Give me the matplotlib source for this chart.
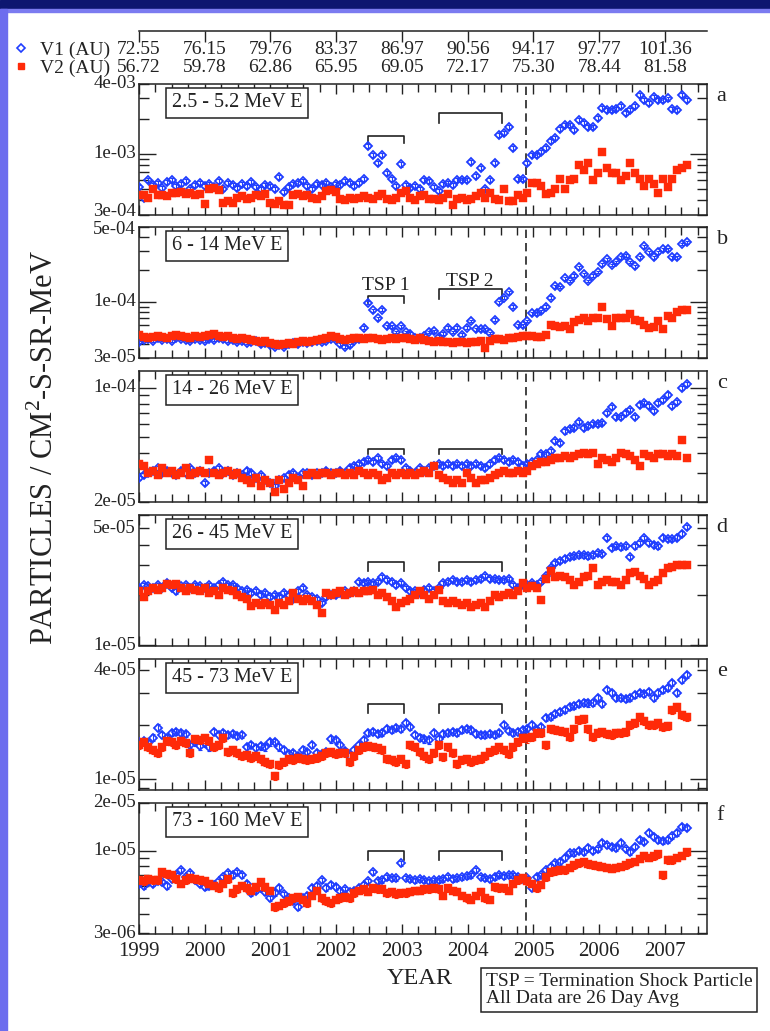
"""
Voyager 1 / Voyager 2 electron intensities, 1999-2007
======================================================
Six stacked log panels, 26 day averages, with the heliocentric
distance of both spacecraft on a top axis.
"""

import numpy as np
import matplotlib
matplotlib.use("Agg")
import matplotlib.pyplot as plt
import matplotlib.transforms as mtransforms
from matplotlib.lines import Line2D
from matplotlib.patches import Rectangle
from matplotlib.ticker import LogLocator, NullFormatter, MultipleLocator

plt.rcParams['font.family'] = ['Liberation Serif', 'DejaVu Serif']
plt.rcParams['mathtext.fontset'] = 'custom'
plt.rcParams['mathtext.rm'] = 'Liberation Serif'

# ---------------------------------------------------------------- data
START_YEAR = 1999.0
STEP_DAYS = 26.0

years = [1999, 2000, 2001, 2002, 2003, 2004, 2005, 2006, 2007]
v1_au = ['72.55', '76.15', '79.76', '83.37', '86.97', '90.56', '94.17',
         '97.77', '101.36']
v2_au = ['56.72', '59.78', '62.86', '65.95', '69.05', '72.17', '75.30',
         '78.44', '81.58']

energy_labels = ['2.5 - 5.2 MeV E', '6 - 14 MeV E', '14 - 26 MeV E',
                 '26 - 45 MeV E', '45 - 73 MeV E', '73 - 160 MeV E']
panel_letters = ['a', 'b', 'c', 'd', 'e', 'f']
units = [1e-4, 1e-5, 1e-5, 1e-5, 1e-5, 1e-6]

# panel a, 2.5-5.2 MeV (x 1e-4)
a_v1 = [5.2, 4.2, 6.0, 5.4, 5.6, 5.1, 5.7, 5.9, 5.3, 5.5, 5.8, 5.0, 5.4, 5.6,
        5.3, 5.5, 5.2, 5.8, 5.0, 5.6, 5.4, 5.1, 5.5, 5.3, 5.7, 5.2, 5.0, 5.4,
        5.3, 5.0, 6.3, 4.7, 5.2, 5.5, 5.6, 5.8, 5.3, 5.0, 5.5, 5.4, 5.6, 5.2,
        5.5, 5.4, 5.8, 5.6, 5.3, 5.6, 6.1, 11.6, 9.7, 8.3, 9.7, 6.8, 6.1, 5.3,
        8.1, 5.4, 5.1, 5.3, 5.0, 5.9, 5.8, 5.2, 4.8, 5.5, 5.6, 5.4, 6.0, 6.0,
        6.0, 8.5, 6.5, 7.5, 5.0, 5.9, 8.3, 14.5, 15.0, 17.0, 11.2, 6.1, 6.1, 8.4,
        9.7, 9.7, 10.3, 11.2, 13.0, 13.6, 16.5, 17.6, 17.6, 16.0, 19.5, 18.3, 17.0, 17.0,
        20.3, 25.0, 23.7, 24.0, 24.5, 26.0, 22.7, 23.7, 26.0, 32.0, 29.0, 27.5, 31.0, 29.0,
        29.0, 30.0, 24.5, 23.7, 32.0, 29.0]
a_v2 = [4.4, 4.4, 4.2, 5.0, 4.4, 4.4, 4.3, 4.6, 4.6, 4.7, 4.5, 4.6, 4.4, 4.5,
        3.7, 5.0, 5.1, 4.9, 3.8, 3.9, 3.8, 4.2, 4.3, 4.1, 4.2, 4.4, 4.3, 4.5,
        3.8, 3.7, 3.9, 3.6, 3.6, 4.4, 4.5, 4.3, 4.4, 4.2, 4.1, 4.3, 4.8, 4.9,
        4.7, 4.1, 4.0, 4.2, 4.1, 4.2, 4.3, 4.2, 4.1, 4.3, 4.5, 4.1, 4.0, 4.2,
        4.6, 4.8, 4.2, 4.0, 4.3, 4.4, 4.1, 4.1, 4.0, 4.2, 4.5, 3.6, 4.1, 4.2,
        4.0, 4.1, 4.3, 4.6, 4.2, 4.6, 4.1, 4.0, 5.0, 3.9, 3.9, 4.4, 4.2, 4.6,
        5.6, 5.6, 5.3, 4.5, 4.6, 5.0, 6.1, 5.0, 5.9, 6.1, 8.0, 7.2, 8.3, 5.9,
        6.9, 10.3, 7.6, 6.9, 6.9, 5.9, 6.5, 8.4, 6.9, 6.1, 5.3, 6.1, 5.5, 4.6,
        6.1, 5.2, 6.1, 7.2, 7.6, 8.0]

# panel b, 6-14 MeV (x 1e-5)
b_v1 = [4.2, 4.4, 4.5, 4.3, 4.6, 4.4, 4.5, 4.3, 4.6, 4.5, 4.4, 4.3, 4.5, 4.4,
        4.3, 4.5, 4.4, 4.6, 4.5, 4.3, 4.4, 4.2, 4.3, 4.1, 4.2, 4.3, 4.0, 4.1,
        3.9, 3.8, 3.9, 3.8, 4.0, 4.1, 4.0, 4.2, 4.1, 4.2, 4.3, 4.2, 4.3, 4.5,
        4.4, 4.0, 3.8, 3.9, 4.3, 4.5, 5.7, 9.8, 8.3, 7.0, 8.4, 5.9, 5.9, 5.2,
        5.9, 5.2, 5.0, 4.6, 4.6, 4.8, 5.2, 5.3, 4.7, 5.0, 5.7, 5.2, 5.7, 4.9,
        5.7, 6.6, 5.5, 5.5, 5.5, 5.1, 6.8, 9.9, 10.9, 12.2, 9.0, 6.0, 6.0, 6.6,
        7.8, 7.8, 8.1, 9.0, 10.9, 13.9, 13.7, 16.6, 15.6, 17.5, 21.0, 18.0, 15.6, 17.5,
        19.0, 22.4, 25.0, 22.0, 23.5, 26.0, 27.0, 23.5, 21.5, 26.0, 33.0, 29.0, 26.0, 29.0,
        31.0, 31.0, 26.0, 26.0, 34.6, 36.0]
b_v2 = [4.9, 4.7, 4.6, 4.7, 4.8, 4.7, 4.6, 4.8, 4.9, 4.8, 4.7, 4.6, 4.8, 4.7,
        4.8, 4.9, 5.0, 4.8, 4.7, 4.8, 4.6, 4.5, 4.6, 4.5, 4.4, 4.3, 4.2, 4.3,
        4.1, 4.0, 3.9, 4.0, 4.1, 4.0, 4.2, 4.3, 4.2, 4.3, 4.4, 4.5, 4.6, 4.8,
        4.7, 4.5, 4.4, 4.5, 4.6, 4.6, 4.5, 4.6, 4.6, 4.5, 4.4, 4.5, 4.6, 4.5,
        4.6, 4.6, 4.5, 4.4, 4.6, 4.4, 4.3, 4.2, 4.3, 4.2, 4.2, 4.1, 4.2, 4.2,
        4.1, 4.2, 4.2, 4.3, 3.7, 4.3, 4.5, 4.5, 4.4, 4.6, 4.6, 4.7, 4.8, 4.8,
        4.8, 4.7, 4.7, 4.9, 6.1, 5.9, 5.8, 5.9, 5.5, 6.5, 6.8, 7.1, 6.6, 7.0,
        7.0, 9.0, 6.9, 5.9, 7.0, 7.0, 7.0, 7.6, 6.8, 6.6, 6.0, 5.7, 5.8, 6.6,
        5.6, 7.3, 7.1, 8.0, 8.3, 8.3]

# panel c, 14-26 MeV (x 1e-5)
c_v1 = [2.8, 2.9, 3.0, 3.1, 3.2, 3.0, 3.1, 3.0, 2.9, 3.1, 3.0, 3.2, 3.0, 3.1,
        2.6, 3.0, 3.1, 3.2, 3.0, 3.1, 2.9, 3.0, 2.9, 3.1, 3.0, 2.8, 2.9, 2.7,
        2.6, 2.5, 2.7, 2.8, 2.9, 3.0, 2.8, 3.0, 3.0, 2.9, 3.0, 3.0, 3.1, 3.0,
        3.0, 3.1, 3.0, 3.2, 3.3, 3.4, 3.5, 3.6, 3.5, 3.7, 3.4, 3.3, 3.6, 3.7,
        3.6, 3.2, 3.1, 3.0, 3.2, 3.1, 3.2, 3.3, 3.4, 3.3, 3.4, 3.3, 3.4, 3.3,
        3.4, 3.3, 3.4, 3.3, 3.2, 3.4, 3.6, 3.7, 3.6, 3.5, 3.6, 3.5, 3.3, 3.4,
        3.5, 3.6, 3.9, 3.9, 4.1, 4.7, 4.6, 5.4, 5.6, 5.7, 6.2, 5.7, 5.8, 6.0,
        6.0, 6.1, 7.0, 7.6, 6.6, 6.6, 7.0, 7.3, 6.6, 7.9, 8.1, 7.7, 7.2, 8.1,
        8.4, 9.1, 7.7, 8.2, 10.0, 10.6]
c_v2 = [3.4, 3.3, 3.0, 3.1, 2.9, 3.2, 3.0, 3.1, 2.9, 3.0, 3.2, 2.9, 3.0, 3.1,
        3.0, 3.6, 3.0, 2.9, 3.0, 3.1, 2.9, 3.0, 2.8, 2.7, 2.6, 2.8, 2.5, 2.7,
        2.6, 2.3, 2.7, 2.4, 2.6, 2.8, 2.7, 2.5, 2.9, 3.0, 2.9, 3.0, 3.0, 2.9,
        3.0, 3.0, 2.9, 3.0, 2.9, 3.1, 3.0, 2.9, 3.0, 2.9, 2.7, 2.8, 3.0, 2.9,
        3.0, 2.9, 3.0, 2.9, 3.0, 3.1, 3.0, 3.3, 2.9, 2.8, 2.7, 2.6, 2.7, 2.6,
        3.0, 2.8, 2.6, 2.7, 2.7, 2.8, 2.9, 3.0, 3.1, 3.0, 3.0, 3.1, 3.0, 3.1,
        3.3, 3.4, 3.5, 3.5, 3.6, 3.7, 3.7, 3.8, 3.7, 3.8, 3.9, 4.0, 3.9, 4.0,
        3.4, 3.7, 3.6, 3.5, 3.7, 4.0, 3.9, 3.8, 3.6, 3.3, 3.9, 3.8, 3.7, 3.9,
        3.9, 3.8, 3.9, 3.8, 4.8, 3.7]

# panel d, 26-45 MeV (x 1e-5)
d_v1 = [2.2, 2.3, 2.25, 2.2, 2.3, 2.2, 2.35, 2.2, 2.1, 2.25, 2.3, 2.2, 2.3, 2.25,
        2.2, 2.3, 2.2, 2.3, 2.4, 2.3, 2.3, 2.2, 2.1, 2.15, 2.05, 2.1, 2.0, 2.05,
        1.95, 2.0, 1.95, 2.05, 2.0, 1.9, 2.1, 2.2, 2.0, 1.95, 1.9, 1.8, 1.95, 2.0,
        2.0, 2.05, 2.1, 2.05, 2.1, 2.4, 2.37, 2.4, 2.35, 2.4, 2.55, 2.45, 2.4, 2.3,
        2.35, 2.2, 2.1, 2.1, 2.05, 2.15, 2.2, 2.1, 2.2, 2.35, 2.4, 2.45, 2.4, 2.4,
        2.45, 2.4, 2.45, 2.5, 2.6, 2.5, 2.5, 2.45, 2.45, 2.5, 2.3, 2.2, 2.3, 2.3,
        2.35, 2.3, 2.4, 2.6, 2.9, 3.1, 3.2, 3.3, 3.36, 3.4, 3.45, 3.45, 3.4, 3.45,
        3.55, 3.5, 4.36, 3.8, 3.9, 3.85, 3.9, 3.36, 3.9, 4.1, 4.36, 4.1, 4.0, 3.9,
        4.4, 4.3, 4.3, 4.4, 4.65, 5.1]
d_v2 = [2.1, 1.95, 2.1, 2.2, 2.15, 2.2, 2.34, 2.3, 2.34, 2.2, 2.1, 2.2, 2.15, 2.1,
        2.2, 2.05, 2.1, 2.0, 2.2, 2.15, 2.1, 2.0, 1.95, 1.9, 1.73, 1.8, 1.75, 1.8,
        1.75, 1.62, 1.8, 1.75, 1.85, 2.05, 1.9, 1.85, 1.9, 1.85, 1.75, 1.57, 2.05, 2.0,
        2.05, 2.1, 2.0, 2.05, 2.1, 2.05, 2.1, 2.1, 2.15, 2.0, 2.05, 1.95, 1.85, 1.7,
        1.8, 1.85, 1.9, 2.0, 2.1, 2.0, 1.9, 2.0, 2.15, 1.85, 1.8, 1.85, 1.8, 1.75,
        1.8, 1.7, 1.75, 1.8, 1.7, 1.85, 2.0, 1.95, 2.0, 2.05, 2.0, 2.1, 2.37, 2.2,
        2.25, 2.2, 1.86, 2.5, 2.8, 2.55, 2.6, 2.55, 2.45, 2.3, 2.4, 2.55, 2.6, 2.9,
        2.3, 2.4, 2.45, 2.4, 2.4, 2.3, 2.45, 2.7, 2.75, 2.6, 2.5, 2.3, 2.4, 2.45,
        2.7, 2.9, 2.95, 3.0, 3.0, 3.0]

# panel e, 45-73 MeV (x 1e-5)
e_v1 = [1.6, 1.62, 1.58, 1.7, 1.93, 1.76, 1.7, 1.8, 1.82, 1.8, 1.78, 1.55, 1.6, 1.52,
        1.58, 1.5, 1.83, 1.75, 1.8, 1.76, 1.78, 1.74, 1.76, 1.5, 1.55, 1.48, 1.52, 1.5,
        1.6, 1.6, 1.5, 1.45, 1.38, 1.4, 1.35, 1.46, 1.42, 1.55, 1.4, 1.38, 1.42, 1.66,
        1.64, 1.55, 1.43, 1.34, 1.45, 1.55, 1.64, 1.8, 1.82, 1.78, 1.8, 1.9, 1.88, 1.92,
        1.9, 2.05, 1.95, 1.76, 1.7, 1.66, 1.64, 1.8, 1.66, 1.78, 1.8, 1.82, 1.8, 1.88,
        1.9, 1.86, 1.78, 1.76, 1.75, 1.78, 1.76, 1.8, 2.0, 1.85, 1.8, 1.83, 1.88, 1.9,
        2.0, 1.88, 1.95, 2.18, 2.2, 2.3, 2.35, 2.42, 2.5, 2.55, 2.6, 2.65, 2.62, 2.65,
        2.8, 2.6, 3.1, 3.0, 2.8, 2.8, 2.78, 2.8, 2.92, 3.0, 2.95, 3.03, 2.8, 3.0,
        3.1, 3.2, 3.4, 3.0, 3.53, 3.76]
e_v2 = [1.55, 1.6, 1.5, 1.45, 1.4, 1.5, 1.62, 1.6, 1.55, 1.62, 1.58, 1.4, 1.66, 1.65,
        1.68, 1.62, 1.5, 1.55, 1.7, 1.42, 1.45, 1.4, 1.34, 1.36, 1.32, 1.35, 1.3, 1.25,
        1.21, 1.04, 1.2, 1.25, 1.3, 1.28, 1.32, 1.3, 1.28, 1.3, 1.32, 1.35, 1.4, 1.42,
        1.38, 1.4, 1.4, 1.25, 1.35, 1.45, 1.5, 1.52, 1.5, 1.48, 1.45, 1.3, 1.28, 1.25,
        1.3, 1.21, 1.55, 1.5, 1.42, 1.35, 1.3, 1.4, 1.55, 1.33, 1.5, 1.4, 1.21, 1.28,
        1.3, 1.25, 1.28, 1.3, 1.35, 1.42, 1.45, 1.5, 1.45, 1.38, 1.5, 1.6, 1.7, 1.68,
        1.72, 1.8, 1.8, 1.55, 1.9, 1.88, 1.85, 1.82, 1.72, 1.9, 2.13, 2.15, 1.9, 1.72,
        1.8, 1.83, 1.78, 1.75, 1.8, 1.8, 1.83, 2.0, 2.05, 2.2, 2.1, 2.0, 2.0, 2.05,
        1.95, 1.98, 2.42, 2.5, 2.27, 2.2]

# panel f, 73-160 MeV (x 1e-6)
f_v1 = [6.2, 6.0, 6.3, 6.2, 6.4, 6.3, 6.0, 6.6, 7.0, 7.5, 6.8, 7.2, 6.5, 6.2,
        5.9, 6.0, 6.1, 6.4, 6.8, 7.2, 7.0, 7.3, 7.0, 6.2, 5.4, 5.6, 5.8, 5.5,
        5.0, 5.4, 5.8, 5.3, 5.0, 4.8, 4.4, 5.0, 5.2, 5.8, 6.0, 6.5, 5.8, 6.1,
        5.9, 5.6, 5.7, 5.5, 5.6, 5.8, 6.1, 6.4, 7.3, 6.4, 6.5, 6.8, 6.7, 6.7,
        8.3, 6.7, 6.6, 6.5, 6.6, 6.5, 6.4, 6.5, 6.5, 6.6, 6.8, 6.6, 6.7, 6.8,
        6.9, 7.0, 7.5, 6.8, 6.7, 6.6, 6.8, 7.0, 6.9, 7.0, 7.0, 6.8, 6.6, 6.7,
        5.8, 6.8, 7.0, 7.5, 7.9, 8.3, 8.5, 9.0, 9.6, 9.6, 10.0, 9.8, 10.4, 10.0,
        10.2, 11.2, 10.8, 10.6, 10.4, 11.2, 10.2, 9.8, 10.6, 11.7, 11.4, 12.9, 12.2, 11.7,
        11.5, 11.7, 12.3, 12.9, 14.1, 14.0]
f_v2 = [6.5, 6.4, 6.6, 6.5, 6.5, 7.3, 7.1, 7.0, 6.6, 6.2, 6.5, 6.7, 6.6, 6.5,
        6.4, 6.2, 6.0, 5.8, 6.2, 6.6, 5.4, 5.7, 6.0, 5.8, 5.6, 5.9, 6.3, 5.9,
        5.6, 4.4, 4.5, 4.65, 4.8, 5.0, 5.1, 4.9, 4.65, 5.2, 5.6, 5.0, 4.8, 4.65,
        4.9, 5.0, 5.1, 5.0, 5.4, 5.6, 5.7, 5.5, 5.8, 5.7, 5.7, 5.4, 5.5, 5.3,
        5.4, 5.4, 5.5, 5.6, 5.6, 5.7, 5.7, 5.8, 5.7, 5.2, 5.8, 5.6, 5.5, 5.2,
        5.0, 4.9, 5.2, 5.5, 5.0, 4.9, 5.9, 5.8, 5.8, 5.6, 6.2, 6.5, 6.7, 6.4,
        6.2, 5.8, 6.1, 6.8, 7.3, 7.4, 7.5, 7.5, 7.8, 8.1, 8.3, 8.5, 8.2, 8.1,
        8.0, 7.9, 7.8, 7.7, 7.8, 7.9, 8.1, 8.3, 8.5, 8.9, 9.3, 9.0, 9.2, 9.5,
        7.0, 8.7, 8.7, 9.0, 9.3, 9.8]

v1_series = [a_v1, b_v1, c_v1, d_v1, e_v1, f_v1]
v2_series = [a_v2, b_v2, c_v2, d_v2, e_v2, f_v2]

# relative error bar size, per panel
v1_err = [0.04, 0.03, 0.03, 0.03, 0.04, 0.04]
v2_err = [0.03, 0.03, 0.04, 0.04, 0.05, 0.05]

ylims = [(3e-4, 4e-3), (3e-5, 5e-4), (2e-5, 1.27e-4),
         (1e-5, 6e-5), (8.8e-6, 4.6e-5), (3e-6, 2e-5)]
ylabels_at = [[3e-4, 1e-3, 4e-3], [3e-5, 1e-4, 5e-4], [2e-5, 1e-4],
              [1e-5, 5e-5], [1e-5, 4e-5], [3e-6, 1e-5, 2e-5]]

# TSP brackets: time spans and (top, foot) levels in each panel
tsp_spans = [(2002.48, 2003.03), (2003.57, 2004.52)]
tsp1_levels = [(14.2e-4, 12.3e-4), (11.2e-5, 9.8e-5), (4.23e-5, 3.9e-5),
               (3.13e-5, 2.77e-5), (2.61e-5, 2.33e-5), (1.0e-5, 8.7e-6)]
tsp2_levels = [(22.4e-4, 18.3e-4), (13.2e-5, 10.7e-5), (4.23e-5, 3.9e-5),
               (3.13e-5, 2.77e-5), (2.61e-5, 2.33e-5), (1.0e-5, 8.7e-6)]
shock_crossing = 2004.89

BLUE = '#1f3dff'
RED = '#ff2a08'
INK = '#222222'

# ---------------------------------------------------------------- layout
W, H = 770, 1031
fig = plt.figure(figsize=(W / 100, H / 100), dpi=100)


def fx(px):
    return px / W


def fy(py):
    return 1 - py / H


# slide frame
fig.patches.append(Rectangle((0, fy(9)), 1, 9 / H, transform=fig.transFigure,
                             color='#0d1670', zorder=0))
fig.patches.append(Rectangle((0, fy(12)), 1, 3 / H, transform=fig.transFigure,
                             color='#7b7bf0', zorder=0))
fig.patches.append(Rectangle((0, 0), fx(7), fy(9), transform=fig.transFigure,
                             color='#6d6dee', zorder=0))

AX_LEFT, AX_W = 139, 568
PANEL_H = 130.5
panel_tops = [84, 227, 371, 515, 659, 803]
XLIM = (1999.0, 2007.64)

n_pts = len(a_v1)
times = START_YEAR + np.arange(n_pts) * STEP_DAYS / 365.25

for k in range(6):
    top = panel_tops[k]
    ax = fig.add_axes([fx(AX_LEFT), fy(top + PANEL_H), fx(AX_W), PANEL_H / H])
    ax.set_yscale('log')
    ax.set_ylim(*ylims[k])
    ax.set_xlim(*XLIM)

    v1 = np.array(v1_series[k]) * units[k]
    v2 = np.array(v2_series[k]) * units[k]

    ax.errorbar(times, v1, yerr=v1 * v1_err[k], fmt='none', ecolor=BLUE,
                elinewidth=0.8, capsize=1.6, capthick=0.8, zorder=3)
    ax.plot(times, v1, ls='none', marker='D', ms=4.2, mfc='none',
            mec=BLUE, mew=1.3, zorder=4)
    ax.errorbar(times, v2, yerr=v2 * v2_err[k], fmt='none', ecolor=RED,
                elinewidth=0.8, capsize=1.6, capthick=0.8, zorder=5)
    ax.plot(times, v2, ls='none', marker='s', ms=5.4, mfc=RED,
            mec=RED, mew=0.3, zorder=6)

    ax.axvline(shock_crossing, color=INK, ls=(0, (5, 3)), lw=1.2, zorder=2)

    for (x0, x1), (hi, lo) in zip(tsp_spans, [tsp1_levels[k], tsp2_levels[k]]):
        ax.plot([x0, x0, x1, x1], [lo, hi, hi, lo], color=INK, lw=1.2,
                zorder=2)

    ax.text(0.058, 0.855, energy_labels[k], transform=ax.transAxes,
            ha='left', va='center', fontsize=14.5, color=INK,
            bbox=dict(boxstyle='square,pad=0.28', fc='white', ec=INK, lw=1.1))
    ax.text(1.017, 0.905, panel_letters[k], transform=ax.transAxes,
            ha='left', va='center', fontsize=16, color=INK)

    # axes styling
    for sp in ax.spines.values():
        sp.set_linewidth(1.1)
        sp.set_color(INK)
    ax.xaxis.set_major_locator(MultipleLocator(1))
    ax.xaxis.set_minor_locator(MultipleLocator(0.25))
    ax.yaxis.set_major_locator(LogLocator(base=10))
    ax.yaxis.set_minor_locator(LogLocator(base=10, subs=np.arange(2, 10)))
    ax.yaxis.set_major_formatter(NullFormatter())
    ax.yaxis.set_minor_formatter(NullFormatter())
    ax.tick_params(axis='both', which='both', direction='in', top=True,
                   right=True, color=INK, width=1.0, labelcolor=INK)
    ax.tick_params(axis='x', which='major', length=7.5)
    ax.tick_params(axis='x', which='minor', length=6)
    ax.tick_params(axis='y', which='major', length=12)
    ax.tick_params(axis='y', which='minor', length=7)
    if k < 5:
        ax.tick_params(axis='x', labelbottom=False)
    else:
        ax.set_xticks(years)
        ax.set_xticklabels([str(y) for y in years])
        ax.tick_params(axis='x', which='major', labelsize=15, pad=6)

    # y labels at the chosen values; the two that meet between panels a
    # and b are nudged apart a little
    ylab_trans = mtransforms.blended_transform_factory(ax.transAxes,
                                                       ax.transData)
    lo_lim, hi_lim = ylims[k]
    for v in ylabels_at[k]:
        nudge = 0
        if k == 0 and v == lo_lim:
            nudge = 3
        if k == 1 and v == hi_lim:
            nudge = -3
        t = mtransforms.offset_copy(ylab_trans, fig=fig, x=-3, y=nudge,
                                    units='dots')
        ax.text(0, v, f"{v:.0e}", transform=t, ha='right', va='center',
                fontsize=13.5, color=INK)

    if k == 1:
        ax.text(np.mean(tsp_spans[0]), 14.3e-5, 'TSP 1', ha='center',
                va='center', fontsize=14, color=INK)
        ax.text(np.mean(tsp_spans[1]) - 0.02, 15.5e-5, 'TSP 2', ha='center',
                va='center', fontsize=14, color=INK)

# ---------------------------------------------------------------- top AU axis
tax = fig.add_axes([fx(AX_LEFT), fy(60), fx(AX_W), (60 - 31) / H])
tax.set_xlim(*XLIM)
tax.patch.set_alpha(0)
for side in ['left', 'right', 'bottom']:
    tax.spines[side].set_visible(False)
tax.spines['top'].set_linewidth(1.1)
tax.spines['top'].set_color(INK)
tax.set_yticks([])
tax.set_xticks(years)
tax.tick_params(axis='x', top=True, bottom=False, direction='in', length=8,
                width=1.0, color=INK, labeltop=False, labelbottom=False)

trans = mtransforms.blended_transform_factory(tax.transData, fig.transFigure)
for yr, d1, d2 in zip(years, v1_au, v2_au):
    tax.text(yr, fy(50), d1, transform=trans, ha='center', va='center',
             fontsize=14, color=INK)
    tax.text(yr, fy(68), d2, transform=trans, ha='center', va='center',
             fontsize=14, color=INK)

fig.text(fx(40), fy(50), 'V1 (AU)', ha='left', va='center', fontsize=14,
         color=INK)
fig.text(fx(40), fy(68), 'V2 (AU)', ha='left', va='center', fontsize=14,
         color=INK)
fig.add_artist(Line2D([fx(21)], [fy(48)], transform=fig.transFigure,
                      marker='D', ms=3.8, mfc='none', mec=BLUE, mew=1.2))
fig.add_artist(Line2D([fx(21)], [fy(66)], transform=fig.transFigure,
                      marker='s', ms=4.5, mfc=RED, mec=RED))

# ---------------------------------------------------------------- labels
fig.text(fx(45), fy(448), 'PARTICLES / CM$^{2}$-S-SR-MeV', rotation=90,
         ha='center', va='center', fontsize=22, color=INK)
fig.text(fx(420), fy(978), 'YEAR', ha='center', va='center', fontsize=17.5,
         color=INK)
fig.text(fx(486), fy(990), 'TSP = Termination Shock Particle\n'
         'All Data are 26 Day Avg', ha='left', va='center', fontsize=14,
         color=INK, linespacing=1.05,
         bbox=dict(boxstyle='square,pad=0.25', fc='white', ec=INK, lw=1.1))

fig.savefig('out.png', dpi=100)
